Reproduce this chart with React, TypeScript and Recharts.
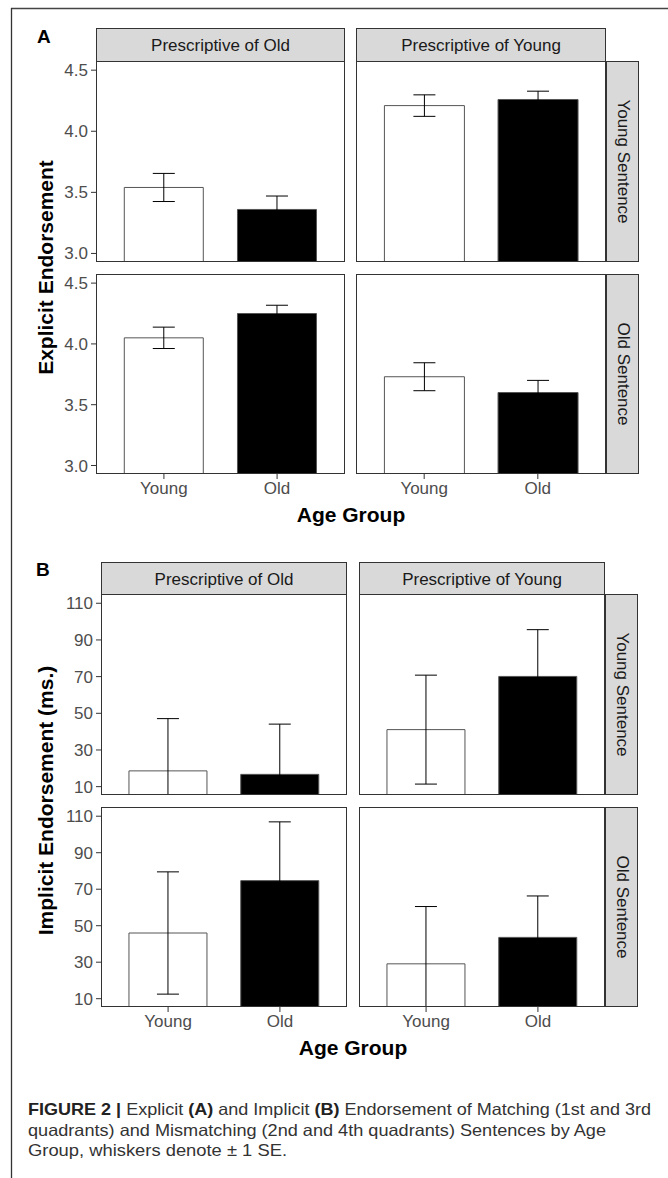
import { BarChart, Bar, XAxis, YAxis, ErrorBar, Cell } from 'recharts';

const ageGroups = ['Young', 'Old'];
const prescriptiveLabels = ['Prescriptive of Old', 'Prescriptive of Young'];
const sentenceLabels = ['Young Sentence', 'Old Sentence'];
const barFills = ['#ffffff', '#000000'];

// [sentence row][prescriptive column][age group]
const explicitMeans = [
  [[3.54, 3.36], [4.21, 4.26]],
  [[4.05, 4.25], [3.73, 3.6]],
];
const explicitSE = [
  [[0.115, 0.11], [0.088, 0.068]],
  [[0.088, 0.068], [0.115, 0.1]],
];
const explicitTicks = [3.0, 3.5, 4.0, 4.5];
const explicitDomain = [2.93, 4.575];

const implicitMeans = [
  [[18.6, 16.7], [41.1, 70.1]],
  [[46.0, 74.7], [29.1, 43.6]],
];
const implicitSE = [
  [[28.5, 27.4], [29.7, 25.5]],
  [[33.5, 32.2], [31.4, 22.7]],
];
const implicitTicks = [10, 30, 50, 70, 90, 110];
const implicitDomain = [5.45, 115.05];

const FONT = '"Liberation Sans", Arial, Helvetica, sans-serif';
const Y_AXIS_W = 60;
const X_AXIS_H = 32;
const SPARE = 12; // room under top-row panels so the lowest tick label isn't cut

type Block = {
  letter: string;
  letterPos: [number, number];
  cols: [number, number][];
  rows: [number, number][];
  stripTop: [number, number];
  stripRight: [number, number];
  yTitle: string;
  means: number[][][];
  ses: number[][][];
  domain: number[];
  ticks: number[];
  fmt: (v: number) => string;
};

const blocks: Block[] = [
  {
    letter: 'A',
    letterPos: [37, 43],
    cols: [[96, 345], [356, 606]],
    rows: [[61, 262], [274, 474]],
    stripTop: [28, 61],
    stripRight: [606, 639],
    yTitle: 'Explicit Endorsement',
    means: explicitMeans,
    ses: explicitSE,
    domain: explicitDomain,
    ticks: explicitTicks,
    fmt: (v) => v.toFixed(1),
  },
  {
    letter: 'B',
    letterPos: [36, 576],
    cols: [[101, 347], [359, 605]],
    rows: [[594, 795], [807, 1007]],
    stripTop: [562, 594],
    stripRight: [605, 638],
    yTitle: 'Implicit Endorsement (ms.)',
    means: implicitMeans,
    ses: implicitSE,
    domain: implicitDomain,
    ticks: implicitTicks,
    fmt: (v) => String(v),
  },
];

function FacetPanel({ id, left, top, width, height, showX, showY, means, ses, domain, ticks, fmt }: any) {
  const data = ageGroups.map((age, i) => ({ age, mean: means[i], se: ses[i] }));
  const chartLeft = showY ? left - Y_AXIS_W : left;
  const chartW = width + (showY ? Y_AXIS_W : 0);
  const chartH = height + (showX ? X_AXIS_H : SPARE);
  const pad = width / 22;
  const tickStyle = { fill: '#4d4d4d', fontSize: 17, fontFamily: FONT };
  const clipId = `clip-${id}`;
  return (
    <div style={{ position: 'absolute', left: chartLeft, top, width: chartW, height: chartH }}>
      {/* whiskers are cut at the panel edge, like coord_cartesian */}
      <svg width={0} height={0} style={{ position: 'absolute' }}>
        <defs>
          <clipPath id={clipId} clipPathUnits="userSpaceOnUse">
            <rect x={-50} y={-50} width={chartW + 100} height={height + 50} />
          </clipPath>
        </defs>
      </svg>
      <BarChart
        width={chartW}
        height={chartH}
        data={data}
        margin={{ top: 0, right: 0, bottom: showX ? 0 : SPARE, left: 0 }}
        barCategoryGap="15%"
      >
        <XAxis
          dataKey="age"
          hide={!showX}
          height={X_AXIS_H}
          padding={{ left: pad, right: pad }}
          axisLine={false}
          tickLine={{ stroke: '#333' }}
          tickSize={5}
          tickMargin={3}
          tick={tickStyle}
          interval={0}
        />
        <YAxis
          type="number"
          domain={domain}
          ticks={ticks}
          allowDataOverflow
          hide={!showY}
          width={Y_AXIS_W}
          axisLine={false}
          tickLine={{ stroke: '#333' }}
          tickSize={5}
          tickMargin={3}
          tick={tickStyle}
          tickFormatter={fmt}
          interval={0}
        />
        <Bar dataKey="mean" isAnimationActive={false} stroke="#555" strokeWidth={1}>
          {data.map((d, i) => (
            <Cell key={d.age} fill={barFills[i]} />
          ))}
          <ErrorBar
            dataKey="se"
            width={11}
            stroke="#000"
            strokeWidth={1}
            isAnimationActive={false}
            clipPath={`url(#${clipId})`}
          />
        </Bar>
      </BarChart>
    </div>
  );
}

function Overlay() {
  return (
    <svg width={668} height={1178} style={{ position: 'absolute', left: 0, top: 0, pointerEvents: 'none' }}>
      <line x1={11} y1={8.5} x2={668} y2={8.5} stroke="#444" strokeWidth={1.3} />
      <line x1={11.5} y1={8} x2={11.5} y2={1178} stroke="#333" strokeWidth={1.3} />
      {blocks.map((b) => {
        const [c0, c1] = b.cols;
        const xMid = (c0[0] + c1[1]) / 2;
        const yMid = (b.rows[0][0] + b.rows[1][1]) / 2;
        const xAxisBase = b.rows[1][1];
        return (
          <g key={b.letter} fontFamily={FONT}>
            <text x={b.letterPos[0]} y={b.letterPos[1]} fontSize={19} fontWeight="bold" fill="#000">
              {b.letter}
            </text>
            {b.cols.map(([x0, x1], ci) => (
              <g key={'s' + ci}>
                <rect x={x0 + 0.5} y={b.stripTop[0] + 0.5} width={x1 - x0 - 1} height={b.stripTop[1] - b.stripTop[0]}
                  fill="#d9d9d9" stroke="#333" strokeWidth={1} />
                <text x={(x0 + x1) / 2} y={(b.stripTop[0] + b.stripTop[1]) / 2 + 1} fontSize={17} fill="#1a1a1a"
                  textAnchor="middle" dominantBaseline="central">
                  {prescriptiveLabels[ci]}
                </text>
              </g>
            ))}
            {b.rows.map(([y0, y1], ri) => (
              <g key={'r' + ri}>
                <rect x={b.stripRight[0] + 0.5} y={y0 + 0.5} width={b.stripRight[1] - b.stripRight[0] - 1} height={y1 - y0 - 1}
                  fill="#d9d9d9" stroke="#333" strokeWidth={1} />
                <text transform={`translate(${(b.stripRight[0] + b.stripRight[1]) / 2 + 1},${(y0 + y1) / 2}) rotate(90)`}
                  fontSize={17} fill="#1a1a1a" textAnchor="middle" dominantBaseline="central">
                  {sentenceLabels[ri]}
                </text>
                {b.cols.map(([x0, x1], ci) => (
                  <rect key={ci} x={x0 + 0.5} y={y0 + 0.5} width={x1 - x0 - 1} height={y1 - y0 - 1}
                    fill="none" stroke="#333" strokeWidth={1} />
                ))}
              </g>
            ))}
            <text transform={`translate(45,${yMid}) rotate(-90)`} fontSize={21} fontWeight="bold" fill="#000"
              textAnchor="middle" dominantBaseline="central">
              {b.yTitle}
            </text>
            <text x={xMid} y={xAxisBase + 48} fontSize={21} fontWeight="bold" fill="#000" textAnchor="middle">
              Age Group
            </text>
          </g>
        );
      })}
      <g fontFamily={FONT} fontSize={16.5} fill="#333">
        <text x={28} y={1115} textLength={623} lengthAdjust="spacingAndGlyphs">
          <tspan fontWeight="bold" fill="#222">FIGURE 2 |</tspan> Explicit <tspan fontWeight="bold" fill="#222">(A)</tspan> and Implicit{' '}
          <tspan fontWeight="bold" fill="#222">(B)</tspan> Endorsement of Matching (1st and 3rd
        </text>
        <text x={28} y={1136} textLength={578} lengthAdjust="spacingAndGlyphs">
          quadrants) and Mismatching (2nd and 4th quadrants) Sentences by Age
        </text>
        <text x={28} y={1156} textLength={259} lengthAdjust="spacingAndGlyphs">
          Group, whiskers denote ± 1 SE.
        </text>
      </g>
    </svg>
  );
}

export default function App() {
  return (
    <div style={{ position: 'absolute', left: 0, top: 0, width: 668, height: 1178, background: '#fff', fontFamily: FONT }}>
      {blocks.map((b) =>
        b.rows.map(([y0, y1], ri) =>
          b.cols.map(([x0, x1], ci) => (
            <FacetPanel
              key={`${b.letter}-${ri}-${ci}`}
              id={`${b.letter}-${ri}-${ci}`}
              left={x0}
              top={y0}
              width={x1 - x0}
              height={y1 - y0}
              showX={ri === 1}
              showY={ci === 0}
              means={b.means[ri][ci]}
              ses={b.ses[ri][ci]}
              domain={b.domain}
              ticks={b.ticks}
              fmt={b.fmt}
            />
          ))
        )
      )}
      <Overlay />
    </div>
  );
}
